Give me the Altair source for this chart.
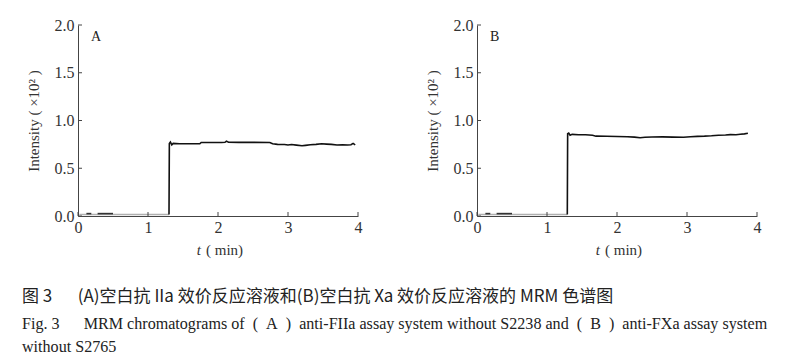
import altair as alt
import pandas as pd

# ---- data ----
x_ticks = [0, 1, 2, 3, 4]
y_ticks = [0.0, 0.5, 1.0, 1.5, 2.0]

# Panel A
A_base_t = [0.02, 1.30]
A_base_y = [0.015, 0.015]
A_dash1_t = [0.12, 0.19]
A_dash1_y = [0.025, 0.025]
A_dash2_t = [0.28, 0.50]
A_dash2_y = [0.025, 0.025]
A_main_t = [1.30, 1.305, 1.32, 1.34, 1.36, 1.45, 1.60, 1.74, 1.76, 1.90, 2.05, 2.10, 2.12, 2.15, 2.30,
            2.50, 2.74, 2.78, 2.85, 2.95, 3.00, 3.05, 3.12, 3.20, 3.25, 3.32, 3.40, 3.48, 3.55, 3.62,
            3.70, 3.78, 3.85, 3.90, 3.93, 3.96]
A_main_y = [0.015, 0.760, 0.775, 0.745, 0.760, 0.756, 0.756, 0.756, 0.770, 0.770, 0.770, 0.772, 0.784, 0.772, 0.771,
            0.771, 0.770, 0.756, 0.750, 0.748, 0.744, 0.748, 0.742, 0.736, 0.740, 0.746, 0.750, 0.756, 0.753, 0.750,
            0.744, 0.746, 0.744, 0.746, 0.760, 0.744]

# Panel B
B_base_t = [0.02, 1.29]
B_base_y = [0.015, 0.015]
B_dash1_t = [0.12, 0.19]
B_dash1_y = [0.025, 0.025]
B_dash2_t = [0.28, 0.50]
B_dash2_y = [0.025, 0.025]
B_main_t = [1.29, 1.295, 1.31, 1.33, 1.36, 1.45, 1.55, 1.65, 1.70, 1.85, 2.00, 2.15, 2.25, 2.33, 2.40,
            2.50, 2.65, 2.80, 2.95, 3.05, 3.15, 3.25, 3.35, 3.45, 3.55, 3.62, 3.70, 3.76, 3.82, 3.87]
B_main_y = [0.015, 0.862, 0.868, 0.845, 0.855, 0.851, 0.850, 0.845, 0.836, 0.835, 0.833, 0.830, 0.826, 0.820, 0.825,
            0.828, 0.829, 0.826, 0.824, 0.830, 0.834, 0.836, 0.840, 0.846, 0.848, 0.852, 0.851, 0.856, 0.860, 0.866]

caption_zh = "图 3\u2003\u2002(A)空白抗 IIa 效价反应溶液和(B)空白抗 Xa 效价反应溶液的 MRM 色谱图"
caption_en1 = ("Fig. 3\u2003\u2002MRM chromatograms of\u2002(\u2002A\u2002)\u2002anti-FIIa assay system without S2238 "
               "and\u2002(\u2002B\u2002)\u2002anti-FXa assay system")
caption_en2 = "without S2765"

W, H = 280, 191
SERIF = "Liberation Serif"
AX = "#444444"


def build_df(segs):
    rows = []
    i = 0
    for name, kind, ts, ys in segs:
        for t, y in zip(ts, ys):
            rows.append({"t": t, "y": y, "seg": name, "kind": kind, "i": i})
            i += 1
    return pd.DataFrame(rows)


def panel(letter, df):
    xs = alt.Scale(domain=[0, 4], nice=False)
    ys = alt.Scale(domain=[0, 2], nice=False)
    xaxis = alt.Axis(values=x_ticks, tickSize=0, labelFont=SERIF, labelFontSize=16, labelColor="#333",
                     labelPadding=3, labelFlush=False, domainColor=AX, grid=False, title=None, format="d")
    yaxis = alt.Axis(values=y_ticks, tickSize=0, labelFont=SERIF, labelFontSize=16, labelColor="#333",
                     labelPadding=4, labelFlush=False, domainColor=AX, grid=False, format=".1f",
                     title="Intensity ( ×10² )", titleFont=SERIF, titleFontSize=15, titleFontWeight="normal",
                     titleColor="#333", titlePadding=13)
    lines = alt.Chart(df).mark_line(strokeWidth=1.6, interpolate="linear").encode(
        x=alt.X("t:Q", scale=xs, axis=xaxis),
        y=alt.Y("y:Q", scale=ys, axis=yaxis),
        color=alt.Color("kind:N", scale=alt.Scale(domain=["base", "dash", "main"],
                                                   range=["#b0b0b0", "#333333", "#111111"]), legend=None),
        detail="seg:N",
        order="i:Q",
    )
    xt = alt.Chart(pd.DataFrame({"v": x_ticks})).mark_rule(color=AX, strokeWidth=1).encode(
        x=alt.X("v:Q", scale=xs), y=alt.value(H), y2=alt.value(H - 4))
    yt = alt.Chart(pd.DataFrame({"v": y_ticks})).mark_rule(color=AX, strokeWidth=1).encode(
        y=alt.Y("v:Q", scale=ys), x=alt.value(0), x2=alt.value(4))
    lab = alt.Chart(pd.DataFrame({"s": [letter]})).mark_text(
        font=SERIF, fontSize=14, color="#222", align="left", baseline="middle").encode(
        text="s:N", x=alt.value(13), y=alt.value(12))
    tt = alt.Chart(pd.DataFrame({"s": ["t"]})).mark_text(
        font=SERIF, fontSize=15, fontStyle="italic", color="#333", align="right", baseline="middle").encode(
        text="s:N", x=alt.value(W / 2 - 17), y=alt.value(H + 34))
    tm = alt.Chart(pd.DataFrame({"s": ["( min)"]})).mark_text(
        font=SERIF, fontSize=15, color="#333", align="left", baseline="middle").encode(
        text="s:N", x=alt.value(W / 2 - 12), y=alt.value(H + 34))
    return alt.layer(lines, xt, yt, lab, tt, tm).properties(width=W, height=H)


dfA = build_df([("b", "base", A_base_t, A_base_y), ("d1", "dash", A_dash1_t, A_dash1_y),
                ("d2", "dash", A_dash2_t, A_dash2_y), ("m", "main", A_main_t, A_main_y)])
dfB = build_df([("b", "base", B_base_t, B_base_y), ("d1", "dash", B_dash1_t, B_dash1_y),
                ("d2", "dash", B_dash2_t, B_dash2_y), ("m", "main", B_main_t, B_main_y)])

row = alt.hconcat(panel("A", dfA), panel("B", dfB), spacing=119, bounds="flush")

CX = -56
cap_layers = []
for txt, yy, font, size in [(caption_zh, 11, "Noto Sans CJK SC", 17),
                            (caption_en1, 38, SERIF, 16.1),
                            (caption_en2, 61, SERIF, 16.1)]:
    cap_layers.append(
        alt.Chart(pd.DataFrame({"s": [txt]})).mark_text(
            font=font, fontSize=size, color="#222", align="left", baseline="middle").encode(
            text="s:N", x=alt.value(CX), y=alt.value(yy)))
caption = alt.layer(*cap_layers).properties(width=600, height=55)

chart = alt.vconcat(row, caption, spacing=261, bounds="flush").properties(
    padding={"left": 14, "top": 9, "right": 0, "bottom": 0}
).configure_view(stroke=None).configure_axis(domainWidth=1)

chart.save("out.html", embed_options={"renderer": "svg", "actions": False})
